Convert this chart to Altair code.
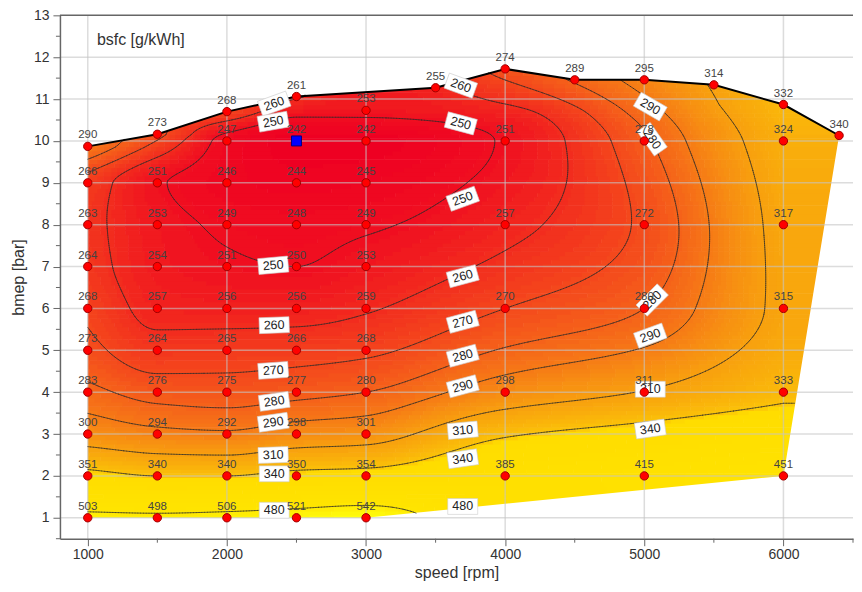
import numpy as np
import pandas as pd
import altair as alt

# ---------------- measured operating points ----------------
speed = [1000]*10 + [1500]*10 + [2000]*11 + [2500]*11 + [3000]*11 + [3500] + [4000]*6 + [4500] + [5000]*6 + [5500] + [6000]*6 + [6400]
bmep = [1, 2, 3, 4, 5, 6, 7, 8, 9, 9.87,
        1, 2, 3, 4, 5, 6, 7, 8, 9, 10.16,
        1, 2, 3, 4, 5, 6, 7, 8, 9, 10, 10.7,
        1, 2, 3, 4, 5, 6, 7, 8, 9, 10, 11.06,
        1, 2, 3, 4, 5, 6, 7, 8, 9, 10, 10.73,
        11.27,
        2, 4, 6, 8, 10, 11.72,
        11.46,
        2, 4, 6, 8, 10, 11.46,
        11.34,
        2, 4, 6, 8, 10, 10.87,
        10.13]
bsfc = [503, 351, 300, 283, 273, 268, 264, 263, 266, 290,
        498, 340, 294, 276, 264, 257, 254, 253, 251, 273,
        506, 340, 292, 275, 265, 256, 251, 249, 246, 247, 268,
        521, 350, 298, 277, 266, 256, 250, 248, 244, 242, 261,
        542, 354, 301, 280, 268, 259, 253, 249, 245, 242, 253,
        255,
        385, 298, 270, 257, 251, 274,
        289,
        415, 311, 280, 272, 278, 295,
        314,
        451, 333, 315, 317, 324, 332,
        340]

# full-load curve (upper envelope) and lower envelope
fl_speed = [1000, 1500, 2000, 2500, 3500, 4000, 4500, 5000, 5500, 6000, 6400]
fl_bmep = [9.87, 10.16, 10.7, 11.06, 11.27, 11.72, 11.46, 11.46, 11.34, 10.87, 10.13]
low_speed = [1000, 3000, 6000]
low_bmep = [1.0, 1.0, 2.0]

# selected operating point
sel_speed = [2500]
sel_bmep = [10.0]

# contour levels and their labels
levels = [250, 260, 270, 280, 290, 310, 340, 480]
lab_speed = [2340, 2333, 3681, 3681, 3695, 2333, 2340, 2333, 2340, 2333, 2333, 2340, 2340,
             3695, 3695, 3695, 3695, 3695, 3695, 3695, 5043, 5043, 5057, 5057, 5043, 5043]
lab_bmep = [10.89, 10.46, 11.32, 10.42, 8.62, 7.03, 5.6, 4.52, 3.78, 3.28, 2.5, 2.05, 1.18,
            6.77, 5.68, 4.87, 4.14, 3.09, 2.41, 1.27, 3.12, 10.82, 10.04, 6.2, 5.35, 4.07]
lab_text = ["260", "250", "260", "250", "250", "250", "260", "270", "280", "290", "310", "340", "480",
            "260", "270", "280", "290", "310", "340", "480", "340", "290", "280", "280", "290", "310"]
lab_angle = [-20, -10, 20, 15, -20, -5, -2, -4, -8, -8, -2, 0, 0,
             -15, -15, -15, -15, -5, -8, 0, -8, 30, 55, -45, -20, 0]

x_ticks = [1000, 2000, 3000, 4000, 5000, 6000]
x_minor = [1500, 2500, 3500, 4500, 5500, 6500]
y_ticks = list(range(1, 14))
y_minor = [0.5 + k for k in range(13)]

c_domain = [242, 250, 260, 270, 280, 290, 300, 310, 330, 340, 345, 470, 540]
c_range = ["#EE0022", "#F00E20", "#F22C1E", "#F4481C", "#F5621A", "#F67A16", "#F79012",
           "#F8A00E", "#FAB60A", "#FBC208", "#FFDD00", "#FFE400", "#FFFF10"]

# ---------------- interpolated field ----------------
def pchip(xk, yk, x):
    xk = np.asarray(xk, float); yk = np.asarray(yk, float)
    x = np.clip(np.asarray(x, float), xk[0], xk[-1])
    n = len(xk)
    h = np.diff(xk); dl = np.diff(yk) / h
    d = np.zeros(n)
    d[0] = dl[0]; d[-1] = dl[-1]
    for k in range(1, n - 1):
        if dl[k - 1] * dl[k] > 0:
            w1 = 2 * h[k] + h[k - 1]; w2 = h[k] + 2 * h[k - 1]
            d[k] = (w1 + w2) / (w1 / dl[k - 1] + w2 / dl[k])
    i = np.clip(np.searchsorted(xk, x) - 1, 0, n - 2)
    t = (x - xk[i]) / h[i]
    h00 = 2 * t**3 - 3 * t**2 + 1; h10 = t**3 - 2 * t**2 + t
    h01 = -2 * t**3 + 3 * t**2; h11 = t**3 - t**2
    return h00 * yk[i] + h10 * h[i] * d[i] + h01 * yk[i + 1] + h11 * h[i] * d[i + 1]

pts = pd.DataFrame({"speed": speed, "bmep": bmep, "bsfc": bsfc})
cols = [s for s in sorted(set(speed)) if (pts.speed == s).sum() >= 3]
xs = np.arange(1000, 6400.1, 20.0)
ys = np.round(np.arange(1.0, 11.76, 0.05), 3)
colvals = np.array([pchip(pts[pts.speed == s].bmep, pts[pts.speed == s].bsfc, ys) for s in cols])
F = np.array([pchip(cols, colvals[:, j], xs) for j in range(len(ys))])

def top_of(x):
    return np.interp(x, fl_speed, fl_bmep)

def bottom_of(x):
    return np.interp(x, low_speed, low_bmep)

def right_of(y):
    return np.interp(y, [low_bmep[-1], fl_bmep[-1]], [low_speed[-1], fl_speed[-1]])

# rects (merged runs)
rects = []
for j in range(0, len(ys), 2):
    yc = ys[j]
    v = F[j]
    q = np.where(v < 345, np.round(v / 2) * 2, np.round(v / 10) * 10)
    keep = (yc - 0.05 <= top_of(xs) + 0.02) & (yc + 0.05 >= bottom_of(xs) - 0.02) & (xs - 10 <= right_of(yc + 0.05) + 5)
    run_s = None
    for k in range(len(xs) + 1):
        ok = k < len(xs) and keep[k]
        if run_s is not None and (not ok or q[k] != q[run_s]):
            rects.append({"x": xs[run_s] - 10, "x2": xs[k - 1] + 14, "y": yc - 0.05, "y2": yc + 0.065, "q": float(q[run_s])})
            run_s = None
        if ok and run_s is None:
            run_s = k
rect_df = pd.DataFrame(rects)

# contour segments (marching squares)
segs = []
a = F[:-1, :-1]; b = F[:-1, 1:]; c = F[1:, 1:]; d = F[1:, :-1]
mn = np.minimum.reduce([a, b, c, d]); mx = np.maximum.reduce([a, b, c, d])
for L in levels:
    for j, i in np.argwhere((mn < L) & (mx > L)):
        corners = [(xs[i], ys[j], F[j, i]), (xs[i + 1], ys[j], F[j, i + 1]),
                   (xs[i + 1], ys[j + 1], F[j + 1, i + 1]), (xs[i], ys[j + 1], F[j + 1, i])]
        cp = []
        for e in range(4):
            x0, y0, v0 = corners[e]; x1, y1, v1 = corners[(e + 1) % 4]
            if (v0 - L) * (v1 - L) < 0:
                t = (L - v0) / (v1 - v0)
                cp.append((x0 + t * (x1 - x0), y0 + t * (y1 - y0)))
        for p in range(0, len(cp) - 1, 2):
            (x0, y0), (x1, y1) = cp[p], cp[p + 1]
            xm, ym = (x0 + x1) / 2, (y0 + y1) / 2
            if bottom_of(xm) - 0.01 <= ym <= top_of(xm) + 0.01 and xm <= right_of(ym) + 2:
                segs.append({"x": x0, "y": y0, "x2": x1, "y2": y1})
seg_df = pd.DataFrame(segs)

# ---------------- chart ----------------
W, H = 794, 524
xs_ = alt.Scale(domain=[800, 6500], nice=False, zero=False)
ys_ = alt.Scale(domain=[0.5, 13], nice=False, zero=False)

ax_x = alt.Axis(values=x_ticks, format="d", grid=False, tickSize=7, labelFontSize=14,
                titleFontSize=16, titleFontWeight="normal", labelColor="#333", titleColor="#333",
                domainColor="#666", domainWidth=1.5, tickColor="#666", labelPadding=2,
                titlePadding=3, zindex=1, labelFont="Arial", titleFont="Arial")
ax_y = alt.Axis(values=y_ticks, format="d", grid=False, tickSize=7, labelFontSize=14,
                titleFontSize=16, titleFontWeight="normal", labelColor="#333", titleColor="#333",
                domainColor="#666", domainWidth=1.5, tickColor="#666", labelPadding=4,
                titlePadding=7, zindex=1, labelFont="Arial", titleFont="Arial")

def X(f):
    return alt.X(f, type="quantitative", scale=xs_, axis=ax_x, title="speed [rpm]")

def Y(f):
    return alt.Y(f, type="quantitative", scale=ys_, axis=ax_y, title="bmep [bar]")

field = alt.Chart(rect_df).mark_rect(strokeWidth=0).encode(
    x=X("x"), x2="x2", y=Y("y"), y2="y2",
    color=alt.Color("q:Q", scale=alt.Scale(domain=c_domain, range=c_range, interpolate="rgb"), legend=None))

top_mask = alt.Chart(pd.DataFrame({"s": fl_speed, "b": fl_bmep, "t": [13] * len(fl_speed)})).mark_area(
    color="white", opacity=1).encode(x=X("s"), y=Y("b"), y2="t")
bot_mask = alt.Chart(pd.DataFrame({"s": [1000] + low_speed + [6500], "b": [1.0] + low_bmep + [2.0],
                                   "t": [0.5] * 5})).mark_area(color="white", opacity=1).encode(
    x=X("s"), y=Y("b"), y2="t")
right_mask = alt.Chart(pd.DataFrame({"b": [low_bmep[-1], fl_bmep[-1], 13.0],
                                     "s": [low_speed[-1], fl_speed[-1], fl_speed[-1]],
                                     "e": [6500] * 3})).mark_area(color="white", opacity=1, orient="horizontal").encode(
    y=Y("b"), x=X("s"), x2="e")
left_mask = alt.Chart(pd.DataFrame({"a": [800], "b": [1000], "c": [0.5], "d": [13]})).mark_rect(
    color="white").encode(x=X("a"), x2="b", y=Y("c"), y2="d")

xgrid = alt.Chart(pd.DataFrame({"g": x_ticks})).mark_rule(color="#c5c5c5", strokeWidth=1.5, opacity=0.6).encode(
    x=X("g"), y=alt.value(0), y2=alt.value(H))
ygrid = alt.Chart(pd.DataFrame({"g": y_ticks[:-1]})).mark_rule(color="#c5c5c5", strokeWidth=1.5, opacity=0.6).encode(
    y=Y("g"), x=alt.value(0), x2=alt.value(W))
top_border = alt.Chart(pd.DataFrame({"g": [13]})).mark_rule(color="#666", strokeWidth=1.5).encode(
    y=Y("g"), x=alt.value(0), x2=alt.value(W))

xminor = alt.Chart(pd.DataFrame({"g": x_minor})).mark_rule(color="#666", strokeWidth=1).encode(
    x=X("g"), y=alt.value(H), y2=alt.value(H + 4))
yminor = alt.Chart(pd.DataFrame({"g": y_minor})).mark_rule(color="#666", strokeWidth=1).encode(
    y=Y("g"), x=alt.value(-4), x2=alt.value(0))

contours = alt.Chart(seg_df).mark_rule(color="#2a2a2a", strokeWidth=0.8, opacity=0.85, strokeCap="round").encode(
    x=X("x"), y=Y("y"), x2="x2", y2="y2")

envelope = alt.Chart(pd.DataFrame({"s": fl_speed, "b": fl_bmep})).mark_line(color="black", strokeWidth=2).encode(
    x=X("s"), y=Y("b"))

lab_df = pd.DataFrame({"s": lab_speed, "b": lab_bmep, "t": lab_text,
                       "a": [(v + 360) % 360 for v in lab_angle]})
lab_box = alt.Chart(lab_df).mark_point(
    shape="M-1,-0.53L1,-0.53L1,0.53L-1,0.53Z", filled=True, fill="white", stroke="#cccccc",
    strokeWidth=0.6, size=900, opacity=1).encode(x=X("s"), y=Y("b"), angle=alt.Angle("a:Q", scale=None))
lab_txt = alt.Chart(lab_df).mark_text(fontSize=12.5, color="#222", font="Arial").encode(
    x=X("s"), y=Y("b"), text="t:N", angle=alt.Angle("a:Q", scale=None))

points = alt.Chart(pts).mark_point(filled=True, fill="#FF0000", stroke="#A00000", strokeWidth=1,
                                   size=70, opacity=1).encode(x=X("speed"), y=Y("bmep"))
pt_lab = alt.Chart(pts).mark_text(dy=-11, fontSize=11.5, color="#444", font="Arial").encode(
    x=X("speed"), y=Y("bmep"), text="bsfc:Q")
sel = alt.Chart(pd.DataFrame({"s": sel_speed, "b": sel_bmep})).mark_point(
    shape="square", filled=True, fill="#0000FF", stroke="#000080", strokeWidth=1, size=100, opacity=1).encode(
    x=X("s"), y=Y("b"))

title = alt.Chart(pd.DataFrame({"t": ["bsfc [g/kWh]"]})).mark_text(
    align="left", baseline="middle", fontSize=16, color="#333", font="Arial").encode(
    text="t:N", x=alt.value(37), y=alt.value(25))

chart = alt.layer(
    field, top_mask, bot_mask, right_mask, left_mask, xgrid, ygrid, contours, envelope,
    top_border, xminor, yminor, lab_box, lab_txt, points, pt_lab, sel, title
).properties(
    width=W, height=H, padding={"left": 2, "top": 0, "right": 0, "bottom": 0}
).configure_view(stroke=None)

chart.save("out.html", embed_options={"renderer": "svg", "actions": False})
